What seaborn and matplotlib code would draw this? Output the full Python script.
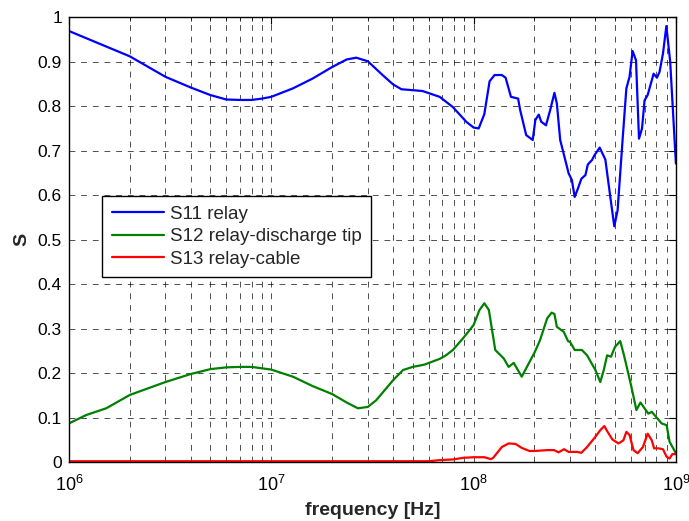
import numpy as np
import pandas as pd
import matplotlib
matplotlib.use("Agg")
import matplotlib.pyplot as plt
import seaborn as sns
from matplotlib.ticker import LogLocator, NullFormatter, FixedLocator, FuncFormatter

# S11 relay
s11_freq = [1e6, 2e6, 3e6, 4e6, 5e6, 6e6, 7e6, 8e6, 9e6, 1e7, 1.28e7, 1.6e7, 2e7, 2.36e7,
            2.63e7, 3e7, 3.55e7, 4e7, 4.4e7, 5e7, 5.6e7, 6.8e7, 7.9e7, 9.2e7, 1e8, 1.06e8,
            1.13e8, 1.2e8, 1.27e8, 1.38e8, 1.44e8, 1.53e8, 1.66e8, 1.7e8, 1.82e8, 1.96e8,
            2.02e8, 2.1e8, 2.16e8, 2.28e8, 2.39e8, 2.51e8, 2.58e8, 2.68e8, 2.95e8, 3.06e8,
            3.16e8, 3.28e8, 3.41e8, 3.57e8, 3.67e8, 3.85e8, 3.96e8, 4.2e8, 4.48e8, 4.74e8,
            4.96e8, 5.15e8, 5.45e8, 5.69e8, 5.9e8, 6.11e8, 6.35e8, 6.57e8, 6.8e8, 7.0e8,
            7.25e8, 7.76e8, 8.06e8, 8.3e8, 8.63e8, 8.97e8, 9.37e8, 1e9]
s11_mag = [0.969, 0.912, 0.866, 0.842, 0.825, 0.815, 0.814, 0.814, 0.817, 0.821, 0.840, 0.862,
           0.888, 0.905, 0.909, 0.901, 0.870, 0.849, 0.838, 0.836, 0.834, 0.821, 0.798, 0.765,
           0.752, 0.750, 0.782, 0.856, 0.870, 0.870, 0.864, 0.821, 0.817, 0.791, 0.735, 0.724,
           0.769, 0.781, 0.765, 0.757, 0.791, 0.830, 0.806, 0.724, 0.649, 0.634, 0.596, 0.615,
           0.637, 0.645, 0.669, 0.679, 0.690, 0.707, 0.680, 0.596, 0.530, 0.566, 0.724, 0.840,
           0.866, 0.924, 0.903, 0.727, 0.750, 0.813, 0.825, 0.873, 0.864, 0.877, 0.918, 0.980,
           0.900, 0.671]

# S12 relay-discharge tip
s12_freq = [1e6, 1.22e6, 1.53e6, 2e6, 3e6, 4e6, 5e6, 6e6, 7e6, 8e6, 1e7, 1.28e7, 1.6e7, 2e7,
            2.36e7, 2.68e7, 3e7, 3.3e7, 4e7, 4.48e7, 5e7, 5.7e7, 6.8e7, 7.3e7, 7.9e7, 8.86e7,
            1e8, 1.07e8, 1.13e8, 1.19e8, 1.28e8, 1.41e8, 1.49e8, 1.58e8, 1.73e8, 1.91e8, 2e8,
            2.13e8, 2.31e8, 2.43e8, 2.51e8, 2.58e8, 2.79e8, 2.93e8, 3e8, 3.16e8, 3.43e8, 3.64e8,
            4e8, 4.23e8, 4.4e8, 4.57e8, 4.78e8, 5e8, 5.31e8, 5.56e8, 6.0e8, 6.38e8, 6.68e8,
            7e8, 7.3e8, 7.6e8, 8.5e8, 9e8, 9.3e8, 1e9]
s12_mag = [0.087, 0.106, 0.121, 0.151, 0.180, 0.198, 0.209, 0.213, 0.214, 0.214, 0.208, 0.192,
           0.171, 0.153, 0.134, 0.121, 0.124, 0.139, 0.184, 0.207, 0.214, 0.219, 0.232, 0.240,
           0.252, 0.278, 0.308, 0.342, 0.357, 0.342, 0.252, 0.233, 0.214, 0.223, 0.192, 0.229,
           0.246, 0.274, 0.323, 0.336, 0.333, 0.304, 0.293, 0.272, 0.270, 0.252, 0.252, 0.240,
           0.207, 0.180, 0.207, 0.240, 0.237, 0.259, 0.272, 0.237, 0.173, 0.117, 0.134, 0.121,
           0.109, 0.113, 0.087, 0.083, 0.046, 0.020]

# S13 relay-cable
s13_freq = [1e6, 1e7, 6.0e7, 6.8e7, 7.9e7, 8.9e7, 1e8, 1.13e8, 1.22e8, 1.25e8, 1.38e8, 1.49e8,
            1.61e8, 1.73e8, 1.89e8, 2e8, 2.31e8, 2.5e8, 2.63e8, 2.8e8, 2.95e8, 3.24e8, 3.41e8,
            3.64e8, 4e8, 4.23e8, 4.43e8, 4.57e8, 4.85e8, 5.2e8, 5.5e8, 5.69e8, 5.9e8, 6.17e8,
            6.47e8, 6.87e8, 7.25e8, 7.6e8, 7.8e8, 8.2e8, 8.63e8, 9.0e8, 9.3e8, 9.6e8, 1e9]
s13_mag = [0.002, 0.002, 0.002, 0.0045, 0.006, 0.0097, 0.011, 0.011, 0.0067, 0.0097, 0.034,
           0.042, 0.041, 0.032, 0.025, 0.025, 0.027, 0.027, 0.022, 0.029, 0.023, 0.023, 0.021,
           0.034, 0.057, 0.072, 0.081, 0.070, 0.051, 0.042, 0.049, 0.068, 0.061, 0.027, 0.020,
           0.034, 0.064, 0.049, 0.031, 0.031, 0.029, 0.012, 0.008, 0.018, 0.018]

series_names = ["S11 relay", "S12 relay-discharge tip", "S13 relay-cable"]
series_colors = ["#0000ff", "#008000", "#ff0000"]

df = pd.concat([
    pd.DataFrame({"freq": s11_freq, "S": s11_mag, "name": series_names[0]}),
    pd.DataFrame({"freq": s12_freq, "S": s12_mag, "name": series_names[1]}),
    pd.DataFrame({"freq": s13_freq, "S": s13_mag, "name": series_names[2]}),
])

sns.set_style("white")
plt.rcParams["font.family"] = ["Liberation Sans", "DejaVu Sans"]
plt.rcParams["mathtext.fontset"] = "custom"
plt.rcParams["mathtext.rm"] = "Liberation Sans"

fig = plt.figure(figsize=(6.89, 5.21), dpi=100)
ax = fig.add_axes([0.100, 0.113, 0.881, 0.854])

sns.lineplot(data=df, x="freq", y="S", hue="name", palette=series_colors,
             hue_order=series_names, estimator=None, sort=False,
             linewidth=1.6, ax=ax)

ax.set_xscale("log")
ax.set_xlim(1e6, 1e9)
ax.set_ylim(0, 1)

ax.yaxis.set_major_locator(FixedLocator(np.arange(0, 1.01, 0.1)))
ax.yaxis.set_major_formatter(FuncFormatter(lambda v, p: f"{v:g}"))
ax.xaxis.set_major_locator(LogLocator(base=10, numticks=10))
ax.xaxis.set_minor_locator(LogLocator(base=10, subs=np.arange(2, 10), numticks=20))
ax.xaxis.set_minor_formatter(NullFormatter())

grid_kw = dict(color="black", linewidth=0.6, linestyle=(0, (7, 7)), alpha=0.8)
ax.grid(True, which="major", axis="both", **grid_kw)
ax.grid(True, which="minor", axis="x", **grid_kw)

ax.tick_params(which="both", direction="in", top=True, right=True, colors="black")
ax.tick_params(axis="y", labelsize=12.5, pad=5)
ax.tick_params(axis="x", labelsize=13, pad=9)
ax.tick_params(which="major", length=5)
ax.tick_params(which="minor", length=3)
for sp in ax.spines.values():
    sp.set_color("black")
    sp.set_linewidth(1.0)

ax.set_xlabel("frequency [Hz]", fontsize=14, fontweight="bold", labelpad=5)
ax.set_ylabel("S", fontsize=14, fontweight="bold", labelpad=5)

leg = ax.legend(loc="upper left", bbox_to_anchor=(0.055, 0.598), fontsize=13.5,
                frameon=True, fancybox=False, edgecolor="black", framealpha=1,
                handlelength=2.8, handletextpad=0.3, borderpad=0.5,
                labelspacing=0.3, borderaxespad=0)
leg.get_frame().set_linewidth(1.0)
for line in leg.get_lines():
    line.set_linewidth(1.6)

fig.savefig("out.png", dpi=100)
